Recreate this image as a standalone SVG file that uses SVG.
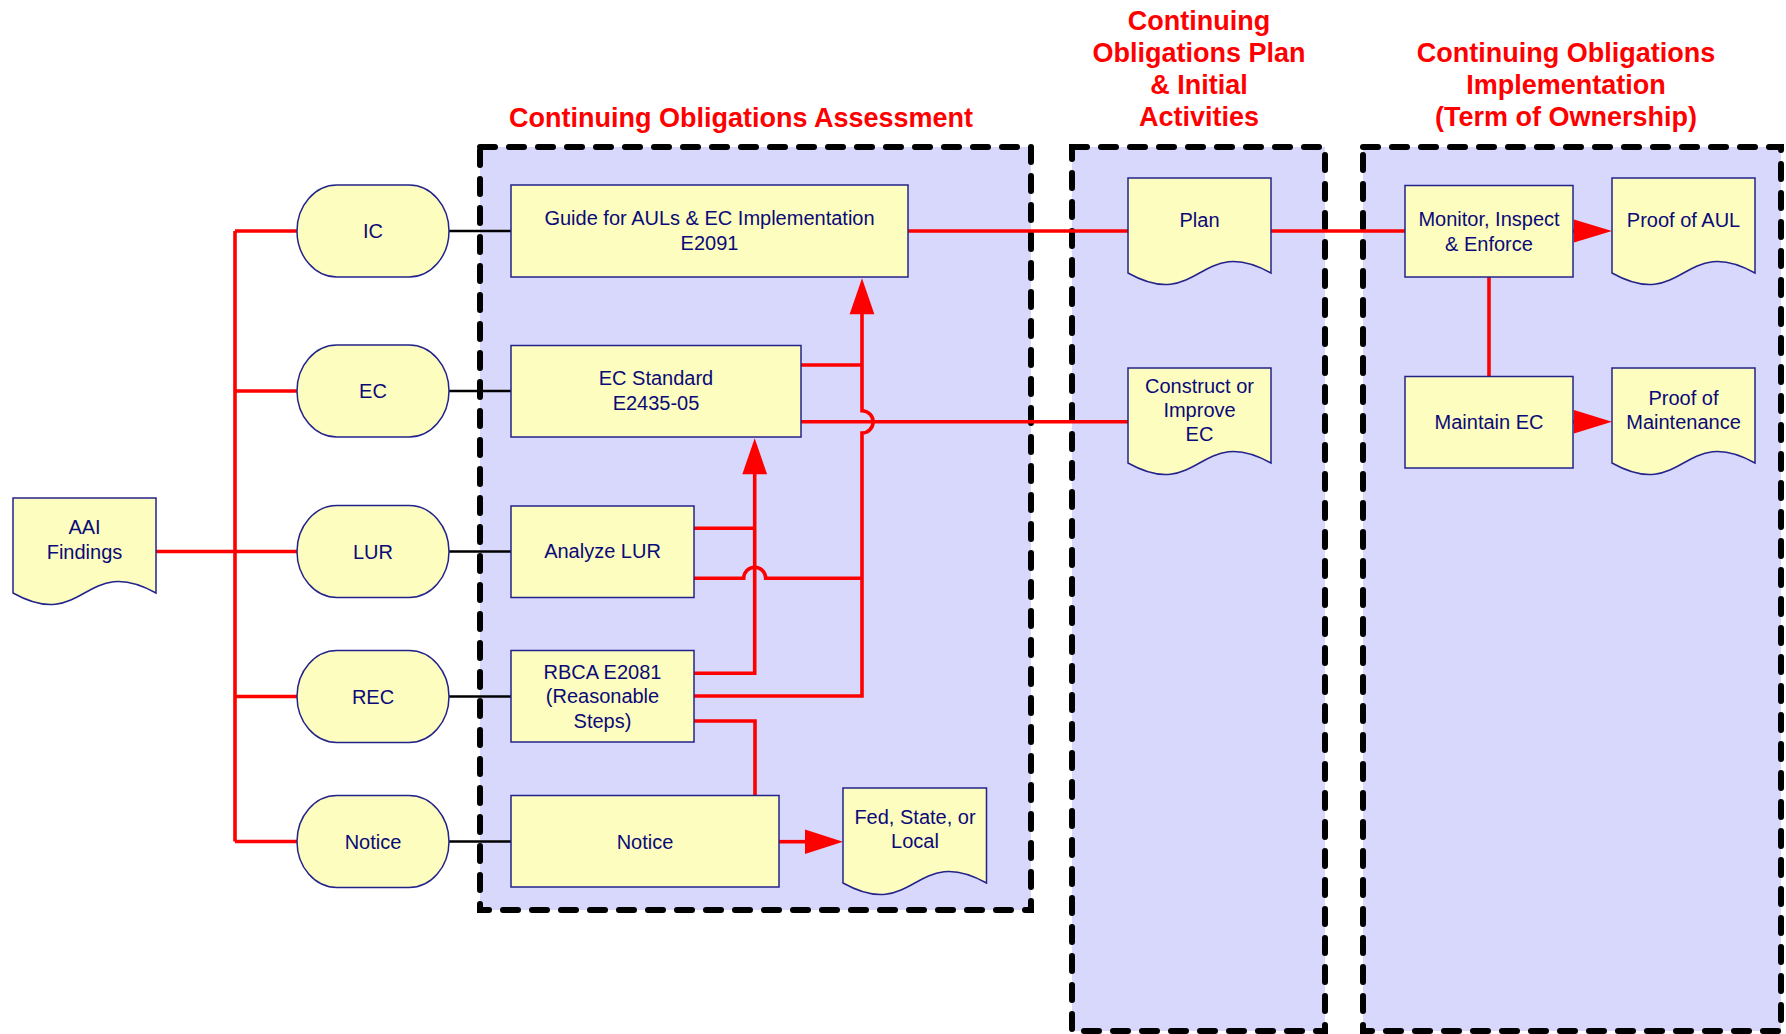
<svg xmlns="http://www.w3.org/2000/svg" width="1786" height="1034" viewBox="0 0 1786 1034">
<defs>
<style>
.cont{fill:#D8D8FC;stroke:none}
.border{fill:none;stroke:#000;stroke-width:6;stroke-dasharray:15 14;stroke-linecap:round}
.node{fill:#FDFDBF;stroke:#23238C;stroke-width:1.5}
.t{font-family:"Liberation Sans",Arial,sans-serif;font-size:20px;fill:#0A0A78;text-anchor:middle}
.title{font-family:"Liberation Sans",Arial,sans-serif;font-size:27px;font-weight:bold;fill:#FF0000;text-anchor:middle}
.red{fill:none;stroke:#FF0000;stroke-width:3.6}
.blk{fill:none;stroke:#000;stroke-width:2.5}
.head{fill:#FF0000;stroke:none}
</style>
</defs>
<rect width="1786" height="1034" fill="#FFFFFF"/>
<g id="containers">
<rect class="cont" x="480" y="147" width="551" height="763"/>
<rect class="cont" x="1072" y="147" width="253" height="884"/>
<rect class="cont" x="1363" y="147" width="418" height="884"/>
<rect class="border" x="480" y="147" width="551" height="763"/>
<rect class="border" x="1072" y="147" width="253" height="884"/>
<rect class="border" x="1363" y="147" width="418" height="884"/>
</g>
<g id="connectors">
<path class="blk" d="M449 231H511M449 391H511M449 551.5H511M449 696.5H511M449 841.5H511"/>
<path class="red" d="M156 551.5H297M235 231V841.5M235 231H297M235 391H297M235 696.5H297M235 841.5H297"/>
<path class="red" d="M908 231H1128M1271 231H1405"/>
<path class="red" d="M1573 231H1580"/>
<polygon class="head" points="1574,219.5 1612,231 1574,242.5"/>
<path class="red" d="M1489 277V377"/>
<path class="red" d="M1573 421.7H1580"/>
<polygon class="head" points="1574,410 1612,421.7 1574,433.4"/>
<path class="red" d="M801 421.7H1128"/>
<path class="red" d="M801 365H862"/>
<path class="red" d="M694 696H862V433A11 11 0 0 0 862 410.7V312"/>
<polygon class="head" points="849.6,314.3 862,278.3 874.4,314.3"/>
<path class="red" d="M694 528.3H754.7"/>
<path class="red" d="M694 578.3H743.7A11 11 0 0 1 765.7 578.3H862"/>
<path class="red" d="M694 673.3H754.7V472"/>
<polygon class="head" points="742.3,474.3 754.7,438.3 767.1,474.3"/>
<path class="red" d="M694 721H755V796"/>
<path class="red" d="M779 841.7H807"/>
<polygon class="head" points="805,829.4 843,841.7 805,854"/>
</g>
<g id="aai">
<path class="node" d="M13 498H156V593C84.5 553 84.5 633 13 593Z"/>
<text class="t" x="84.5" y="534">AAI</text>
<text class="t" x="84.5" y="559">Findings</text>
</g>
<g id="pill-ic"><rect class="node" x="297" y="185" width="152" height="92" rx="40" ry="46"/><text class="t" x="373" y="238">IC</text></g>
<g id="pill-ec"><rect class="node" x="297" y="345" width="152" height="92" rx="40" ry="46"/><text class="t" x="373" y="398">EC</text></g>
<g id="pill-lur"><rect class="node" x="297" y="505.5" width="152" height="92" rx="40" ry="46"/><text class="t" x="373" y="558.5">LUR</text></g>
<g id="pill-rec"><rect class="node" x="297" y="650.5" width="152" height="92" rx="40" ry="46"/><text class="t" x="373" y="703.5">REC</text></g>
<g id="pill-notice"><rect class="node" x="297" y="795.5" width="152" height="92" rx="40" ry="46"/><text class="t" x="373" y="848.5">Notice</text></g>
<g id="box-guide"><rect class="node" x="511" y="185" width="397" height="92"/><text class="t" x="709.5" y="225">Guide for AULs &amp; EC Implementation</text><text class="t" x="709.5" y="250">E2091</text></g>
<g id="box-ecstd"><rect class="node" x="511" y="345.5" width="290" height="91.5"/><text class="t" x="656" y="385">EC Standard</text><text class="t" x="656" y="410">E2435-05</text></g>
<g id="box-lur"><rect class="node" x="511" y="506" width="183" height="91.5"/><text class="t" x="602.5" y="558">Analyze LUR</text></g>
<g id="box-rbca"><rect class="node" x="511" y="650.5" width="183" height="91.5"/><text class="t" x="602.5" y="678.5">RBCA E2081</text><text class="t" x="602.5" y="703">(Reasonable</text><text class="t" x="602.5" y="727.5">Steps)</text></g>
<g id="box-notice"><rect class="node" x="511" y="795.5" width="268" height="91.5"/><text class="t" x="645" y="848.5">Notice</text></g>
<g id="doc-fed"><path class="node" d="M843 788H986.5V883C914.8 843 914.8 923 843 883Z"/><text class="t" x="915" y="824">Fed, State, or</text><text class="t" x="915" y="848">Local</text></g>
<g id="doc-plan"><path class="node" d="M1128 178H1271V273C1199.5 233 1199.5 313 1128 273Z"/><text class="t" x="1199.5" y="227">Plan</text></g>
<g id="doc-construct"><path class="node" d="M1128 368H1271V463C1199.5 423 1199.5 503 1128 463Z"/><text class="t" x="1199.5" y="392.5">Construct or</text><text class="t" x="1199.5" y="417">Improve</text><text class="t" x="1199.5" y="441">EC</text></g>
<g id="box-monitor"><rect class="node" x="1405" y="185.5" width="168" height="91.5"/><text class="t" x="1489" y="226">Monitor, Inspect</text><text class="t" x="1489" y="250.5">&amp; Enforce</text></g>
<g id="box-maintain"><rect class="node" x="1405" y="376.5" width="168" height="91.5"/><text class="t" x="1489" y="428.5">Maintain EC</text></g>
<g id="doc-proofaul"><path class="node" d="M1612 178H1755V273C1683.5 233 1683.5 313 1612 273Z"/><text class="t" x="1683.5" y="226.5">Proof of AUL</text></g>
<g id="doc-proofmaint"><path class="node" d="M1612 368H1755V463C1683.5 423 1683.5 503 1612 463Z"/><text class="t" x="1683.5" y="404.5">Proof of</text><text class="t" x="1683.5" y="429">Maintenance</text></g>
<g id="titles">
<text class="title" x="741" y="126.5">Continuing Obligations Assessment</text>
<text class="title" x="1199" y="30">Continuing</text>
<text class="title" x="1199" y="62">Obligations Plan</text>
<text class="title" x="1199" y="94">&amp; Initial</text>
<text class="title" x="1199" y="126">Activities</text>
<text class="title" x="1566" y="62">Continuing Obligations</text>
<text class="title" x="1566" y="94">Implementation</text>
<text class="title" x="1566" y="126">(Term of Ownership)</text>
</g>
</svg>
